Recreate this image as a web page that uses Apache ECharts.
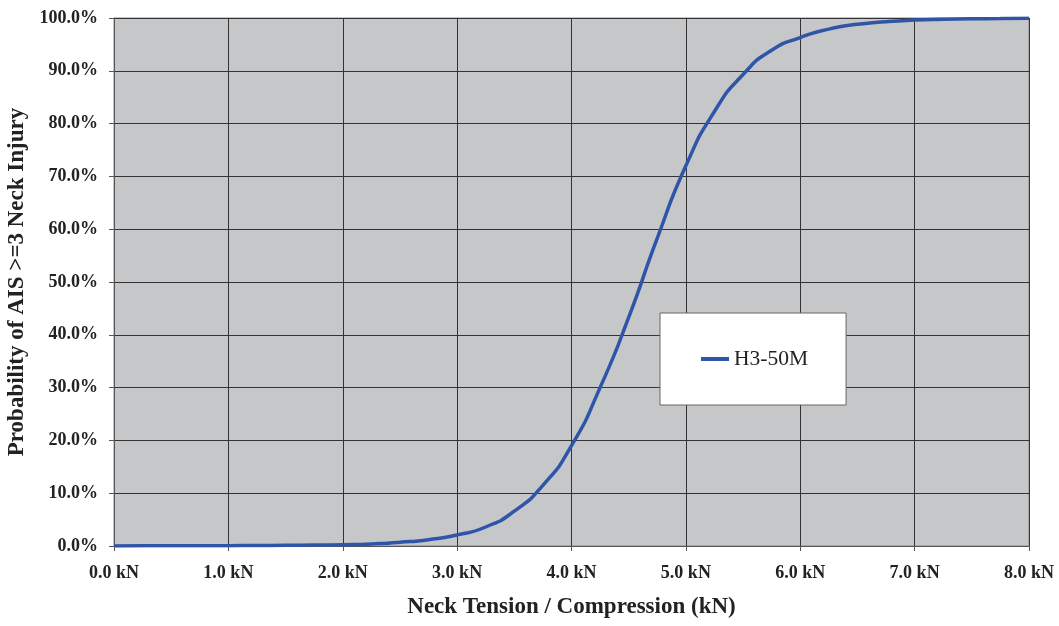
<!DOCTYPE html>
<html>
<head>
<meta charset="utf-8">
<script src="https://cdn.jsdelivr.net/npm/echarts@6/dist/echarts.min.js"></script>
<style>html,body{margin:0;padding:0;background:#fff;}#c{width:1059px;height:626px;}</style>
</head>
<body>
<div id="c"></div>
<script>
const seriesName = 'H3-50M';
const forceKN = [0, 0.25, 0.5, 0.75, 1.0, 1.25, 1.5, 1.75, 2.0, 2.25, 2.5, 2.75, 3.0, 3.25, 3.5, 3.75, 4.0, 4.25, 4.5, 4.75, 5.0, 5.25, 5.5, 5.75, 6.0, 6.25, 6.5, 6.75, 7.0, 7.25, 7.5, 7.75, 8.0];
const probPct = [0.02, 0.03, 0.04, 0.05, 0.07, 0.09, 0.12, 0.17, 0.25, 0.4, 0.7, 1.2, 2.1, 3.6, 6.6, 11.5, 19.0, 30.0, 43.3, 58.3, 72.0, 82.3, 89.3, 93.9, 96.3, 97.9, 98.8, 99.3, 99.6, 99.75, 99.85, 99.9, 99.95];
const xTitle = 'Neck Tension / Compression (kN)';
const yTitle = 'Probability of AIS >=3 Neck Injury';

const font = 'Liberation Serif';
const chart = echarts.init(document.getElementById('c'));
chart.setOption({
  animation: false,
  backgroundColor: '#fff',
  grid: {left: 114, right: 30, top: 18, bottom: 80, outerBoundsMode: 'none', containLabel: false, show: true, backgroundColor: '#C6C7C9', borderColor: '#8a8a8a', borderWidth: 1},
  legend: {
    left: 660, top: 313,
    padding: [35, 38, 35, 41],
    backgroundColor: '#fff', borderColor: '#666', borderWidth: 1,
    icon: 'rect', itemWidth: 28, itemHeight: 4, itemGap: 0,
    textStyle: {fontFamily: font, fontSize: 21.5, color: '#222'},
    data: [seriesName]
  },
  xAxis: {
    type: 'value', min: 0, max: 8, interval: 1,
    name: xTitle, nameLocation: 'middle', nameGap: 50,
    nameTextStyle: {fontFamily: font, fontWeight: 'bold', fontSize: 23, color: '#222'},
    axisLine: {show: true, lineStyle: {color: '#555', width: 1}},
    axisTick: {show: true, length: 5, lineStyle: {color: '#555'}},
    axisLabel: {fontFamily: font, fontWeight: 'bold', fontSize: 18, color: '#222', margin: 18,
      formatter: v => v.toFixed(1) + ' kN'},
    splitLine: {show: true, lineStyle: {color: '#333', width: 1}}
  },
  yAxis: {
    type: 'value', min: 0, max: 100, interval: 10,
    name: yTitle, nameLocation: 'middle', nameGap: 84, nameRotate: 90,
    nameTextStyle: {fontFamily: font, fontWeight: 'bold', fontSize: 23, color: '#222'},
    axisLine: {show: true, lineStyle: {color: '#555', width: 1}},
    axisTick: {show: true, length: 5, lineStyle: {color: '#555'}},
    axisLabel: {fontFamily: font, fontWeight: 'bold', fontSize: 18, color: '#222', margin: 16,
      formatter: v => v.toFixed(1) + '%'},
    splitLine: {show: true, lineStyle: {color: '#333', width: 1}}
  },
  series: [{
    name: seriesName, type: 'line', smooth: 0.6, showSymbol: false,
    data: forceKN.map((x, i) => [x, probPct[i]]),
    lineStyle: {color: '#2F55A9', width: 3.5},
    itemStyle: {color: '#2F55A9'}
  }]
});
</script>
</body>
</html>
